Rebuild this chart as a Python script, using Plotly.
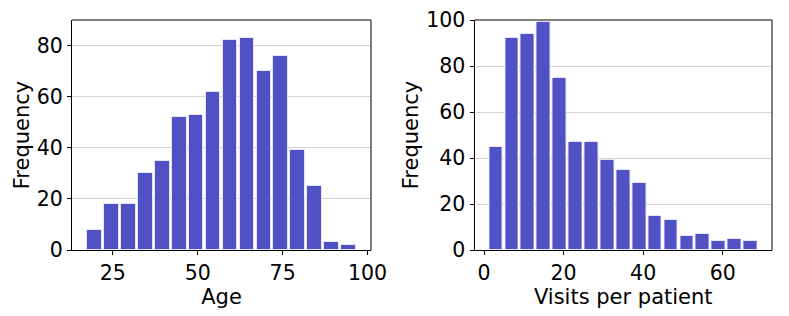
import plotly.graph_objects as go
from plotly.subplots import make_subplots

# Data
age_bin_start = 17
age_bin_width = 5
age_counts = [8, 18, 18, 30, 35, 52, 53, 62, 82, 83, 70, 76, 39, 25, 3, 2]

visits_bin_start = 1
visits_bin_width = 4
visits_counts = [45, 92, 94, 99, 75, 47, 47, 39, 35, 29, 15, 13, 6, 7, 4, 5, 4]

age_ticks = [25, 50, 75, 100]
visits_ticks = [0, 20, 40, 60]
age_yticks = [0, 20, 40, 60, 80]
visits_yticks = [0, 20, 40, 60, 80, 100]

age_centers = [age_bin_start + age_bin_width * (i + 0.5) for i in range(len(age_counts))]
visits_centers = [visits_bin_start + visits_bin_width * (i + 0.5) for i in range(len(visits_counts))]

BAR = "#5151C6"
EDGE = "rgba(235,235,255,0.9)"
FONT = "DejaVu Sans"

W, H = 789, 316
ml, mr, mt, mb = 72, 17, 20, 66
pw = W - ml - mr

fig = make_subplots(rows=1, cols=2, horizontal_spacing=0.0)

fig.add_trace(go.Bar(x=age_centers, y=age_counts, width=[age_bin_width * 0.88] * len(age_counts),
                     marker=dict(color=BAR, line=dict(color=EDGE, width=1)), showlegend=False),
              row=1, col=1)
fig.add_trace(go.Bar(x=visits_centers, y=visits_counts, width=[visits_bin_width * 0.86] * len(visits_counts),
                     marker=dict(color=BAR, line=dict(color=EDGE, width=1)), showlegend=False),
              row=1, col=2)

d1 = (0.0, (371 - ml) / pw)
d2 = ((474.5 - ml) / pw, 1.0)

a_lo = age_bin_start
a_hi = age_bin_start + age_bin_width * len(age_counts)
a_pad = 0.05 * (a_hi - a_lo)
v_lo = visits_bin_start
v_hi = visits_bin_start + visits_bin_width * len(visits_counts)
v_pad = 0.05 * (v_hi - v_lo)

TICK = 20.5
TITLE = 21

common_x = dict(showline=True, linecolor="black", linewidth=1, ticks="outside", ticklen=4,
                tickcolor="black", showgrid=False, zeroline=False,
                tickfont=dict(family=FONT, size=TICK, color="black"),
                title_font=dict(family=FONT, size=TITLE, color="black"), automargin=False)
common_y = dict(showline=True, linecolor="black", linewidth=1, ticks="outside", ticklen=4,
                tickcolor="black", showgrid=True, gridcolor="#d3d3d3", gridwidth=1, zeroline=False,
                tickfont=dict(family=FONT, size=TICK, color="black"),
                title_font=dict(family=FONT, size=TITLE, color="black"), automargin=False)

fig.update_xaxes(common_x, row=1, col=1, domain=d1, range=[a_lo - a_pad, a_hi + a_pad],
                 tickvals=age_ticks, title=dict(text="Age", standoff=0))
fig.update_xaxes(common_x, row=1, col=2, domain=d2, range=[v_lo - v_pad, v_hi + v_pad],
                 tickvals=visits_ticks, title=dict(text="Visits per patient", standoff=0))
fig.update_yaxes(common_y, row=1, col=1, range=[0, 90], tickvals=age_yticks,
                 title=dict(text="Frequency", standoff=1))
fig.update_yaxes(common_y, row=1, col=2, range=[0, 100], tickvals=visits_yticks,
                 title=dict(text="Frequency", standoff=1))

# top and right spines (grey)
for xr in ["x domain", "x2 domain"]:
    yr = "y domain" if xr == "x domain" else "y2 domain"
    fig.add_shape(type="line", xref=xr, yref=yr, x0=0, x1=1, y0=1, y1=1,
                  line=dict(color="#555555", width=1.5))
    fig.add_shape(type="line", xref=xr, yref=yr, x0=1, x1=1, y0=0, y1=1,
                  line=dict(color="#555555", width=1.5))

fig.update_layout(width=W, height=H, margin=dict(l=ml, r=mr, t=mt, b=mb),
                  plot_bgcolor="white", paper_bgcolor="white", bargap=0,
                  font=dict(family=FONT, size=TITLE, color="black"))

fig.write_html("out.html", config={"displayModeBar": False},
               post_script="document.body.style.margin='0';")
